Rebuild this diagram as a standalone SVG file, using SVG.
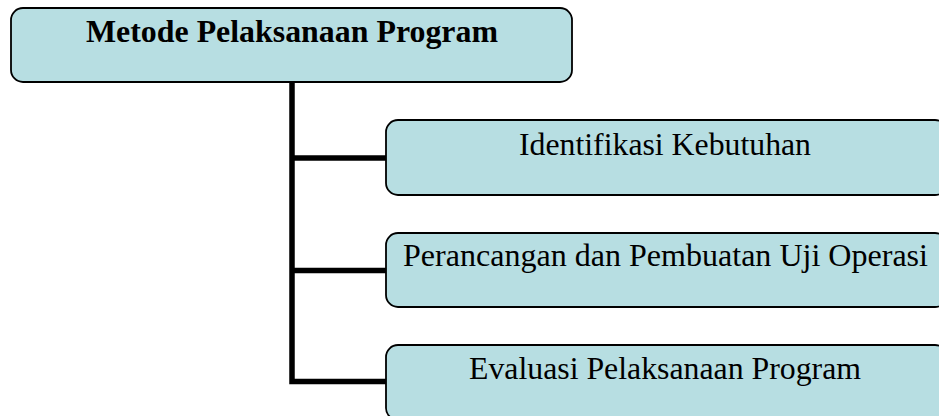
<svg xmlns="http://www.w3.org/2000/svg" width="939" height="416" viewBox="0 0 939 416">
<style>
.box{fill:#B7DEE2;stroke:#000;stroke-width:1.8}
.t{font-family:"Liberation Serif","Times New Roman",serif;font-size:31.5px;fill:#000;text-anchor:middle}
.b{font-weight:bold}
.c{fill:none;stroke:#000;stroke-width:5.5;stroke-linejoin:miter;stroke-linecap:butt}
</style>
<rect width="939" height="416" fill="#fff"/>
<g id="connectors">
<path class="c" d="M292 82 V381.5 H387"/>
<path class="c" d="M292 158 H387"/>
<path class="c" d="M292 270.5 H387"/>
</g>
<g id="root">
<rect class="box" x="11" y="8" width="561" height="74" rx="12"/>
<text class="t b" x="292" y="42" textLength="412" lengthAdjust="spacingAndGlyphs">Metode Pelaksanaan Program</text>
</g>
<g id="n1">
<rect class="box" x="386" y="120" width="561" height="75" rx="12"/>
<text class="t" x="665" y="155" textLength="292" lengthAdjust="spacingAndGlyphs">Identifikasi Kebutuhan</text>
</g>
<g id="n2">
<rect class="box" x="386" y="233" width="561" height="74" rx="12"/>
<text class="t" x="665.5" y="266" textLength="525" lengthAdjust="spacingAndGlyphs">Perancangan dan Pembuatan Uji Operasi</text>
</g>
<g id="n3">
<rect class="box" x="386" y="345" width="561" height="75" rx="12"/>
<text class="t" x="665" y="379" textLength="392" lengthAdjust="spacingAndGlyphs">Evaluasi Pelaksanaan Program</text>
</g>
</svg>
